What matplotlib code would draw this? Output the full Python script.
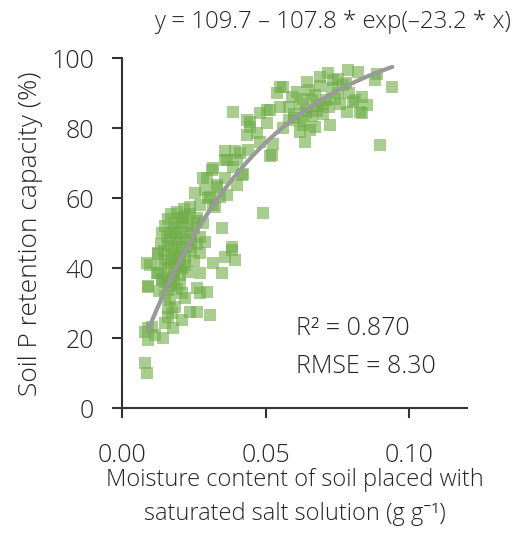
import numpy as np
import matplotlib
matplotlib.use("Agg")
import matplotlib.pyplot as plt

plt.rcParams['font.family'] = ['Open Sans', 'Noto Sans', 'DejaVu Sans']
plt.rcParams['font.weight'] = 'light'
plt.rcParams['axes.labelweight'] = 'light'

# moisture content (g/g) and P retention capacity (%)
moisture = [
    0.008, 0.0087, 0.009, 0.0104, 0.009, 0.0115, 0.008, 0.0143,
    0.016, 0.015, 0.0177, 0.0174, 0.0209, 0.0184, 0.016,
    0.0237, 0.026, 0.0306, 0.0219, 0.026, 0.0271, 0.0296,
    0.009, 0.0097, 0.0125, 0.0122, 0.0139, 0.016,
    0.0348, 0.0383, 0.0393, 0.0358, 0.0348, 0.0317,
    0.0289, 0.0271, 0.0271, 0.0085, 0.009,
    # dense lower cluster
    0.0125, 0.0135, 0.014, 0.015, 0.016, 0.017, 0.018, 0.019, 0.020, 0.021,
    0.022, 0.023, 0.024, 0.0155, 0.017, 0.018, 0.019, 0.020, 0.021, 0.022,
    0.023, 0.0145, 0.016, 0.017, 0.018, 0.019, 0.020, 0.021, 0.022, 0.024,
    0.026, 0.027, 0.0135, 0.015, 0.016, 0.017, 0.018, 0.019, 0.020, 0.021,
    0.022, 0.023, 0.025, 0.0125, 0.014, 0.015, 0.016, 0.017, 0.018, 0.019,
    0.020, 0.021, 0.013, 0.015, 0.0165, 0.025, 0.026, 0.0235, 0.0215, 0.019,
    0.0165, 0.024, 0.020, 0.018,
    # middle band
    0.0212, 0.026, 0.0282, 0.0237, 0.0271, 0.0317, 0.0341, 0.0365, 0.0324,
    0.0254, 0.0289, 0.030, 0.0306, 0.033, 0.0313, 0.0282, 0.0358, 0.040,
    0.033, 0.0296, 0.0317, 0.0365, 0.040, 0.042, 0.0418, 0.0386,
    0.0358, 0.0393, 0.041, 0.0438, 0.0358, 0.0383, 0.049,
    # upper band
    0.0386, 0.0445, 0.048, 0.0435, 0.047, 0.0505, 0.0515, 0.055, 0.0435,
    0.048, 0.0525, 0.0522, 0.0515, 0.0505, 0.0445,
    0.056, 0.056, 0.055, 0.054, 0.058, 0.060, 0.062, 0.064, 0.066, 0.068,
    0.059, 0.061, 0.063, 0.065, 0.067, 0.069, 0.071, 0.073, 0.075, 0.077,
    0.060, 0.062, 0.064, 0.066, 0.068, 0.070, 0.072, 0.074, 0.076, 0.079,
    0.081, 0.058, 0.063, 0.067, 0.070, 0.0724, 0.0654, 0.0619, 0.0637,
    0.0717, 0.0734, 0.0689, 0.0644, 0.0786, 0.0821, 0.0887, 0.088, 0.094,
    0.0835, 0.0852, 0.0835, 0.0804, 0.0783, 0.0828, 0.0898, 0.075, 0.078,
]
retention = [
    12.9, 10.1, 22.9, 23.2, 19.5, 21.0, 21.8, 20.1,
    26.0, 24.4, 23.0, 27.2, 25.2, 28.9, 28.7,
    27.5, 27.5, 26.7, 31.5, 34.4, 33.0, 33.2,
    34.7, 41.0, 44.4, 38.7, 36.7, 33.8,
    51.5, 45.2, 42.4, 43.2, 38.7, 41.5,
    47.5, 44.4, 38.7, 41.5, 35.0,
    # dense lower cluster
    44.0, 47.0, 50.0, 52.0, 54.0, 55.5, 53.0, 56.0, 54.5, 53.0,
    55.0, 52.0, 50.0, 49.0, 48.0, 50.0, 47.5, 49.0, 50.5, 48.0,
    46.0, 45.0, 46.5, 44.0, 45.5, 43.0, 44.5, 46.0, 43.5, 45.0,
    47.0, 49.0, 41.0, 42.5, 40.0, 41.5, 39.0, 40.5, 38.0, 40.0,
    41.0, 39.0, 42.0, 38.5, 37.0, 36.0, 37.5, 35.0, 36.5, 34.0,
    35.5, 33.0, 33.5, 32.0, 31.0, 51.5, 53.5, 55.5, 57.0, 51.5,
    50.5, 48.0, 41.5, 42.5,
    # middle band
    54.5, 54.5, 53.0, 57.5, 58.0, 58.0, 60.4, 61.0, 57.5,
    61.5, 62.4, 60.0, 60.4, 63.2, 68.0, 65.8, 65.8, 63.8,
    63.8, 65.8, 68.7, 71.0, 71.0, 67.0, 66.7, 69.0,
    73.6, 73.6, 73.0, 73.8, 71.0, 46.0, 55.8,
    # upper band
    84.7, 81.8, 84.3, 78.0, 78.7, 81.5, 85.2, 86.0, 82.4,
    76.0, 75.5, 72.4, 72.0, 85.2, 80.5,
    91.8, 80.0, 91.8, 90.0, 86.0, 84.0, 87.0, 85.0, 88.0, 86.5,
    89.0, 90.5, 88.5, 91.0, 89.5, 92.0, 88.0, 91.5, 90.0, 92.5,
    83.0, 82.0, 84.5, 83.5, 85.0, 87.0, 86.0, 88.5, 87.0, 90.0,
    88.0, 82.5, 81.0, 80.5, 84.0, 81.0, 79.5, 79.0, 76.0,
    95.8, 93.8, 94.7, 93.2, 96.6, 96.0, 95.5, 93.8, 91.8,
    89.0, 86.7, 84.4, 87.5, 84.7, 84.7, 75.2, 94.0, 93.0,
]

# fitted model shown on the chart
fit_a, fit_b, fit_c = 109.7, 107.8, 23.2
fit_x = np.linspace(0.009, 0.094, 100)
fit_y = fit_a - fit_b * np.exp(-fit_c * fit_x)

text_col = '#262626'

fig = plt.figure(figsize=(5.24, 5.35), dpi=100)
ax = fig.add_axes([0.233, 0.237, 0.658, 0.654])

ax.scatter(moisture, retention, marker='s', s=66, color='#70ad47',
           alpha=0.6, linewidths=0, zorder=2)
ax.plot(fit_x, fit_y, color='#999999', lw=3, solid_capstyle='round', zorder=3)

ax.set_xlim(0, 0.12)
ax.set_ylim(0, 100)
ax.set_xticks([0.0, 0.05, 0.10])
ax.set_xticklabels(['0.00', '0.05', '0.10'])
ax.set_yticks([0, 20, 40, 60, 80, 100])

for s in ['top', 'right']:
    ax.spines[s].set_visible(False)
for s in ['left', 'bottom']:
    ax.spines[s].set_color('#333333')
    ax.spines[s].set_linewidth(1.5)
ax.tick_params(direction='out', length=7, width=1.5, color='#333333',
               labelsize=18, labelcolor=text_col)
ax.tick_params(axis='x', pad=18)
ax.tick_params(axis='y', pad=13)

ax.set_xlabel('Moisture content of soil placed with\nsaturated salt solution (g g⁻¹)',
              fontsize=17, color=text_col, linespacing=1.55, labelpad=0)
ax.set_ylabel('Soil P retention capacity (%)', fontsize=19, color=text_col, labelpad=6)

fig.text(0.634, 0.958, 'y = 109.7 – 107.8 * exp(–23.2 * x)', ha='center', va='center',
         fontsize=17.3, color=text_col)
ax.text(0.0605, 22.9, 'R² = 0.870', fontsize=18, color=text_col, va='center')
ax.text(0.0605, 11.8, 'RMSE = 8.30', fontsize=18, color=text_col, va='center')

fig.savefig('out.png', dpi=100)
